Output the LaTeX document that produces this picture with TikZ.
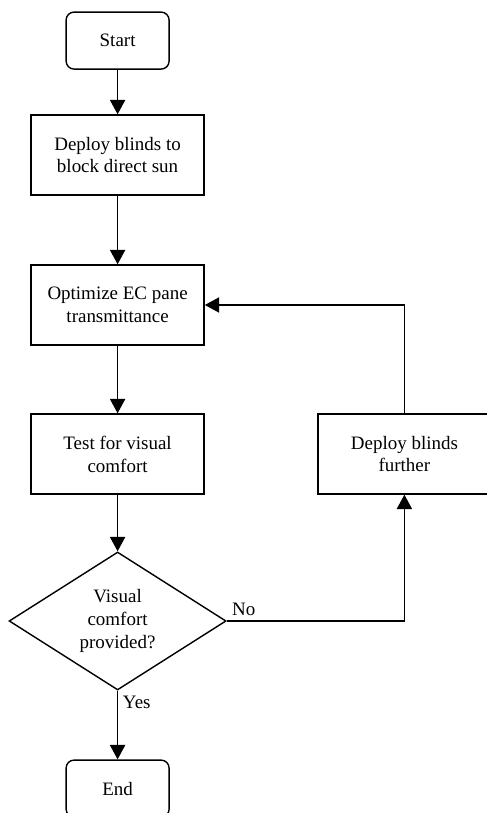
\documentclass[tikz,border=0pt]{standalone}
\usepackage{fontspec}
\setmainfont{Liberation Serif}
\usetikzlibrary{arrows.meta,shapes,positioning}

\begin{document}
\begin{tikzpicture}[>={Triangle[length=0.36cm,width=0.38cm]}, line width=1pt, font=\fontsize{13.5}{16.3}\selectfont,
    terminal/.style={rectangle, rounded corners=0.2cm, draw, minimum width=2.575cm, minimum height=1.425cm},
    process/.style={rectangle, draw, minimum width=4.325cm, minimum height=2cm, align=center},
    decision/.style={diamond, draw, aspect=1.5, minimum width=5.425cm, minimum height=3.45cm, inner sep=0pt, align=center}]
      \useasboundingbox (0,0) rectangle (12.15,20.325);

      % Main column
      \node[terminal] (start) at (2.94,19.31) {Start};
      \node[process] (deploy) at (2.94,16.45) {Deploy blinds to\\block direct sun};
      \node[process] (optimize) at (2.94,12.7) {Optimize EC pane\\transmittance};
      \node[process] (test) at (2.94,8.975) {Test for visual\\comfort};
      \node[decision] (check) at (2.94,4.8) {Visual\\comfort\\provided?};
      \node[terminal] (end) at (2.94,0.61) {End};

      % Loop back
      \node[process] (further) at (10.11,8.975) {Deploy blinds\\further};

      % Connectors
      \draw[->] (start) -- (deploy);
      \draw[->] (deploy) -- (optimize);
      \draw[->] (optimize) -- (test);
      \draw[->] (test) -- (check);
      \draw[->] (check.south) -- node[pos=0, below right] {Yes} (end);
      \draw[->] (check.east) -| node[pos=0, above right] {No} (further.south);
      \draw[->] (further.north) |- (optimize.east);

    \end{tikzpicture}
\end{document}
